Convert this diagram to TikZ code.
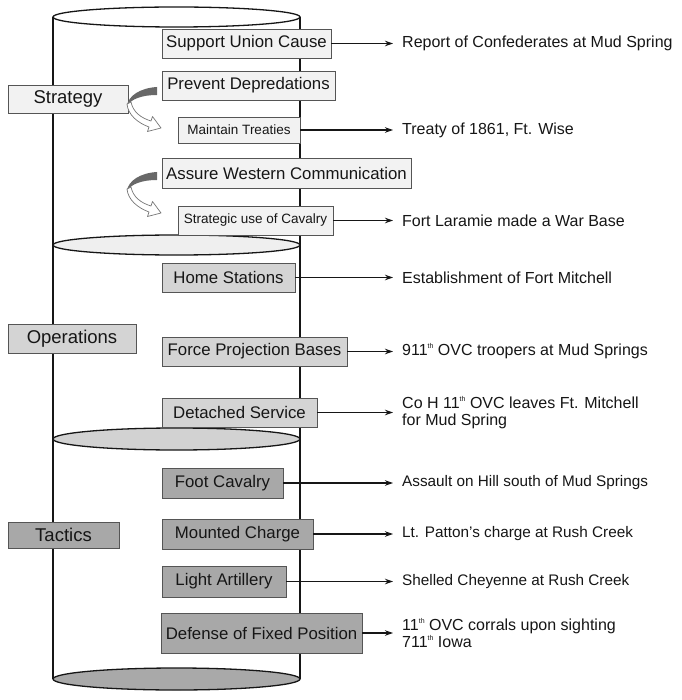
\documentclass[tikz,border=0pt]{standalone}
\usepackage{fontspec}
\setmainfont{Liberation Sans}
\usetikzlibrary{arrows.meta}
\definecolor{ink}{HTML}{161616}
\definecolor{boxline}{HTML}{555555}
\definecolor{fillA}{HTML}{F2F2F2}
\definecolor{fillB}{HTML}{D4D4D4}
\definecolor{fillC}{HTML}{A8A8A8}
\definecolor{ellA}{HTML}{EFEFEF}
\definecolor{ellB}{HTML}{D2D2D2}
\definecolor{ellC}{HTML}{A9A9A9}
\definecolor{curvdark}{HTML}{686868}
\definecolor{curvline}{HTML}{777777}
\newcommand\thsup{\raisebox{0.8ex}{\fontsize{7}{7}\selectfont th}}
\tikzset{
  box/.style={draw=boxline, line width=0.9pt, inner sep=0pt, text=ink, font=\fontsize{16.8}{18}\selectfont},
  strat/.style={box, fill=fillA},
  ops/.style={box, fill=fillB},
  tac/.style={box, fill=fillC},
  smalltxt/.style={font=\fontsize{13.5}{15}\selectfont},
  sidelbl/.style={font=\fontsize{18.5}{20}\selectfont},
  res/.style={anchor=west, inner xsep=9pt, inner ysep=0pt, text=ink, font=\fontsize{16}{16.5}\selectfont, align=left},
  restac/.style={res, font=\fontsize{15.3}{16}\selectfont},
  conn/.style={draw=ink, line width=1.05pt, -{Stealth[length=8pt,width=5.5pt]}},
  cyl/.style={draw=ink, line width=1.3pt},
  curvy/.pic={
    \fill[curvdark] (0,0) .. controls (-17,1) and (-29,9) .. (-30,19)
      .. controls (-26,12) and (-15,8) .. (0,8) -- cycle;
    \filldraw[fill=white, draw=curvline, line width=0.7pt, line join=round]
      (-30,17) .. controls (-29,28) and (-19,36) .. (-8,40) -- (-9.5,44.5) -- (4,41)
      -- (-4.5,29.5) -- (-6,34) .. controls (-16,31) and (-24,25) .. (-26,15) -- cycle;
  }
}
\begin{document}
\begin{tikzpicture}[x=1pt,y=-1pt]
\useasboundingbox (0,0) rectangle (681,700);
\fill[white] (0,0) rectangle (681,700);
% cylinder
\draw[cyl] (53,17) -- (53,679);
\draw[cyl] (300,17) -- (300,679);
\draw[cyl, fill=white] (176.5,17) ellipse [x radius=123.5, y radius=10];
\draw[cyl, fill=ellA] (176.5,245) ellipse [x radius=123.5, y radius=10];
\draw[cyl, fill=ellB] (176.5,439) ellipse [x radius=123.5, y radius=11];
\draw[cyl, fill=ellC] (176.5,679) ellipse [x radius=123.5, y radius=11];

% strategy
\node[strat, minimum width=169pt, minimum height=29pt] (suc) at (246.5,43.5) {Support Union Cause};
\node[strat, minimum width=173pt, minimum height=29pt] (pd) at (248.5,85.5) {Prevent Depredations};
\node[strat, sidelbl, minimum width=120pt, minimum height=28pt] (strategy) at (68,99) {Strategy};
\node[strat, smalltxt, minimum width=122pt, minimum height=26pt] (mt) at (239,130) {Maintain Treaties};
\node[strat, minimum width=249pt, minimum height=30pt] (awc) at (286.5,173) {Assure Western Communication};
\node[strat, smalltxt, minimum width=155pt, minimum height=29pt] (suoc) at (255.5,220.5) {Strategic use of Cavalry};

\pic at (157,87) {curvy};
\pic at (157,172) {curvy};

\node[res] (r1) at (393,43.5) {Report of Confederates at Mud Spring};
\node[res] (r2) at (393,130) {Treaty of 1861, Ft. Wise};
\node[res] (r3) at (393,220.5) {Fort Laramie made a War Base};
\draw[conn] (suc.east) -- (r1.west);
\draw[conn] (mt.east) -- (r2.west);
\draw[conn] (suoc.east) -- (r3.west);

% operations
\node[ops, minimum width=133pt, minimum height=29pt] (hs) at (228.5,277.5) {Home Stations};
\node[ops, sidelbl, minimum width=128pt, minimum height=29pt] (operations) at (72,338.5) {Operations};
\node[ops, minimum width=185pt, minimum height=29pt] (fpb) at (254.5,351.5) {Force Projection Bases};
\node[ops, minimum width=155pt, minimum height=29pt] (ds) at (239.5,412.5) {Detached Service};

\node[res] (r4) at (393,277.5) {Establishment of Fort Mitchell};
\node[res] (r5) at (393,351.5) {911\thsup{} OVC troopers at Mud Springs};
\node[res] (r6) at (393,412.5) {Co H 11\thsup{} OVC leaves Ft. Mitchell\\for Mud Spring};
\draw[conn] (hs.east) -- (r4.west);
\draw[conn] (fpb.east) -- (r5.west);
\draw[conn] (ds.east) -- (r6.west);

% tactics
\node[tac, minimum width=121pt, minimum height=30pt] (fc) at (222.5,483) {Foot Cavalry};
\node[tac, sidelbl, minimum width=111pt, minimum height=26pt] (tactics) at (63.5,535) {Tactics};
\node[tac, minimum width=151pt, minimum height=30pt] (mc) at (237.5,534) {Mounted Charge};
\node[tac, minimum width=124pt, minimum height=31pt] (la) at (224,581.5) {Light Artillery};
\node[tac, minimum width=201pt, minimum height=40pt] (dfp) at (261.5,633) {Defense of Fixed Position};

\node[restac] (r7) at (393,483) {Assault on Hill south of Mud Springs};
\node[restac] (r8) at (393,534) {Lt. Patton’s charge at Rush Creek};
\node[restac] (r9) at (393,581.5) {Shelled Cheyenne at Rush Creek};
\node[res] (r10) at (393,633) {11\thsup{} OVC corrals upon sighting\\711\thsup{} Iowa};
\draw[conn] (fc.east) -- (r7.west);
\draw[conn] (mc.east) -- (r8.west);
\draw[conn] (la.east) -- (r9.west);
\draw[conn] (dfp.east) -- (r10.west);
\end{tikzpicture}
\end{document}
